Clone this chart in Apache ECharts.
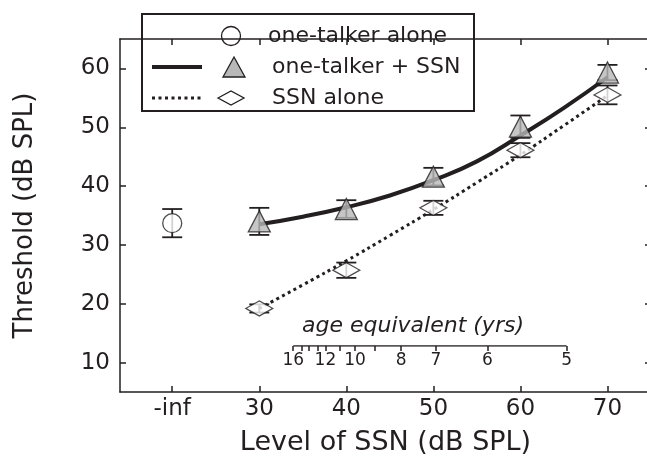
<!DOCTYPE html>
<html>
<head>
<meta charset="utf-8">
<script src="https://cdn.jsdelivr.net/npm/echarts@6/dist/echarts.min.js"></script>
<style>
  html, body { margin: 0; padding: 0; background: #fff; }
  #chart { width: 647px; height: 470px; }
</style>
</head>
<body>
<div id="chart"></div>
<script>
// axis ticks
const xTickValues = [20, 30, 40, 50, 60, 70];
const xTickLabels = ['-inf', '30', '40', '50', '60', '70'];
const yTickValues = [10, 20, 30, 40, 50, 60];

const seriesNames = ['one-talker alone', 'one-talker + SSN', 'SSN alone'];

// one-talker alone (no noise, plotted at -inf)
const aloneLevels = [20];
const aloneMean = [33.7];
const aloneErr = [2.4];

// noise levels for the other two conditions
const ssnLevels = [30, 40, 50, 60, 70];
const comboMean = [34.0, 36.1, 41.6, 50.1, 59.3];
const comboErr = [2.3, 1.5, 1.5, 1.9, 1.3];
const ssnMean = [19.2, 25.7, 36.3, 46.1, 55.5];
const ssnErr = [0.7, 1.3, 1.2, 1.2, 1.6];

// fitted curves
const fitLevels = [30, 35, 40, 45, 50, 55, 60, 65, 70];
const comboFit = [33.5, 34.8, 36.4, 38.4, 41.0, 44.2, 48.6, 53.3, 58.5];
const ssnFit = [19.2, 23.2, 27.3, 31.6, 36.0, 40.6, 45.3, 50.3, 55.4];

// age equivalent scale (years) and the SSN level each one sits at
const ageTicks = [16, 15, 14, 13, 12, 11, 10, 9, 8, 7, 6, 5];
const ageTickLevels = [33.9, 34.9, 35.7, 36.7, 37.6, 39.3, 41.0, 43.3, 46.3, 50.3, 56.2, 65.3];
const ageLabels = [16, 12, 10, 8, 7, 6, 5];

const FONT = '"DejaVu Sans"';
const INK = '#231f20';

const ageLabelLevels = ageLabels.map(a => ageTickLevels[ageTicks.indexOf(a)]);

function nearestAge(v) {
    let best = 0;
    ageTickLevels.forEach((l, i) => {
        if (Math.abs(l - v) < Math.abs(ageTickLevels[best] - v)) best = i;
    });
    return String(ageTicks[best]);
}

function errorBarSeries(levels, mean, err, z) {
    return {
        type: 'custom',
        xAxisIndex: 0,
        yAxisIndex: 0,
        z: z,
        silent: true,
        data: levels.map((l, i) => [l, mean[i] - err[i], mean[i] + err[i]]),
        renderItem: (params, api) => {
            const lo = api.coord([api.value(0), api.value(1)]);
            const hi = api.coord([api.value(0), api.value(2)]);
            const half = 10;
            const style = { stroke: INK, lineWidth: 1.8 };
            return {
                type: 'group',
                children: [
                    { type: 'line', shape: { x1: lo[0], y1: lo[1], x2: hi[0], y2: hi[1] }, style },
                    { type: 'line', shape: { x1: lo[0] - half, y1: lo[1], x2: lo[0] + half, y2: lo[1] }, style },
                    { type: 'line', shape: { x1: hi[0] - half, y1: hi[1], x2: hi[0] + half, y2: hi[1] }, style }
                ]
            };
        }
    };
}

const frameLine = { show: true, onZero: false, lineStyle: { color: INK, width: 1.5 } };
const tickStyle = { color: INK, width: 1.5 };
const labelText = { color: INK, fontFamily: FONT };

const chart = echarts.init(document.getElementById('chart'));
const option = {
    animation: false,
    backgroundColor: '#fff',
    grid: [
        // frame runs a little past the right edge of the picture
        { left: 120, width: 531, top: 39, bottom: 78, outerBoundsMode: 'none', containLabel: false },
        // strip that carries the age-equivalent scale, its bottom edge is the scale line
        { left: 120, width: 531, top: 336, height: 10, outerBoundsMode: 'none', containLabel: false }
    ],
    xAxis: [
        {
            gridIndex: 0, type: 'value', min: 14, max: 75, position: 'bottom',
            axisLine: frameLine,
            axisTick: { show: true, inside: true, length: 6, customValues: xTickValues, lineStyle: tickStyle },
            axisLabel: {
                customValues: xTickValues,
                formatter: v => xTickLabels[xTickValues.indexOf(v)],
                fontSize: 23, margin: 6, ...labelText
            },
            splitLine: { show: false },
            name: 'Level of SSN (dB SPL)', nameLocation: 'middle', nameGap: 37,
            nameTextStyle: { fontSize: 27, ...labelText }
        },
        {
            gridIndex: 0, type: 'value', min: 14, max: 75, position: 'top',
            axisLine: frameLine,
            axisTick: { show: true, inside: true, length: 6, customValues: xTickValues, lineStyle: tickStyle },
            axisLabel: { show: false },
            splitLine: { show: false }
        },
        {
            gridIndex: 1, type: 'value', min: 14, max: 75, position: 'bottom',
            axisLine: { show: false },
            axisTick: { show: true, inside: false, length: 5, customValues: ageTickLevels, lineStyle: tickStyle },
            axisLabel: {
                customValues: ageLabelLevels, formatter: nearestAge,
                fontSize: 17, margin: 6, ...labelText
            },
            splitLine: { show: false }
        }
    ],
    yAxis: [
        {
            gridIndex: 0, type: 'value', min: 5, max: 65, position: 'left',
            axisLine: frameLine,
            axisTick: { show: true, inside: true, length: 6, customValues: yTickValues, lineStyle: tickStyle },
            axisLabel: { customValues: yTickValues, fontSize: 23, margin: 10, ...labelText },
            splitLine: { show: false },
            name: 'Threshold (dB SPL)', nameLocation: 'middle', nameGap: 82,
            nameTextStyle: { fontSize: 26, ...labelText }
        },
        {
            gridIndex: 0, type: 'value', min: 5, max: 65, position: 'right',
            axisLine: frameLine,
            axisTick: { show: true, inside: true, length: 6, customValues: yTickValues, lineStyle: tickStyle },
            axisLabel: { show: false },
            splitLine: { show: false }
        },
        { gridIndex: 1, type: 'value', min: 0, max: 1, show: false }
    ],
    graphic: [
        {
            type: 'group', z: 100,
            children: [
                { type: 'rect', shape: { x: 142, y: 14, width: 332, height: 97 },
                  style: { fill: '#fff', stroke: INK, lineWidth: 2 } },
                { type: 'circle', shape: { cx: 231, cy: 36, r: 9.5 },
                  style: { fill: '#fff', stroke: INK, lineWidth: 1.3 } },
                { type: 'line', shape: { x1: 152, y1: 67, x2: 202, y2: 67 },
                  style: { stroke: INK, lineWidth: 4 } },
                { type: 'polygon', shape: { points: [[234, 57], [245, 77], [223, 77]] },
                  style: { fill: '#b8b8b8', stroke: INK, lineWidth: 1.3 } },
                { type: 'line', shape: { x1: 152, y1: 98, x2: 202, y2: 98 },
                  style: { stroke: INK, lineWidth: 3, lineDash: [3, 3.5] } },
                { type: 'polygon', shape: { points: [[218, 98], [231, 91], [244, 98], [231, 105]] },
                  style: { fill: '#fff', stroke: INK, lineWidth: 1.3 } },
                { type: 'text', x: 268, y: 36,
                  style: { text: seriesNames[0], fill: INK, font: '22px ' + FONT, verticalAlign: 'middle' } },
                { type: 'text', x: 272, y: 67,
                  style: { text: seriesNames[1], fill: INK, font: '22px ' + FONT, verticalAlign: 'middle' } },
                { type: 'text', x: 272, y: 98,
                  style: { text: seriesNames[2], fill: INK, font: '22px ' + FONT, verticalAlign: 'middle' } }
            ]
        },
        {
            type: 'text', x: 413, y: 326,
            style: { text: 'age equivalent (yrs)', fill: INK, font: 'italic 22px ' + FONT,
                     align: 'center', verticalAlign: 'middle' }
        }
    ],
    series: [
        errorBarSeries(aloneLevels, aloneMean, aloneErr, 2),
        errorBarSeries(ssnLevels, comboMean, comboErr, 2),
        errorBarSeries(ssnLevels, ssnMean, ssnErr, 2),
        {
            name: seriesNames[1] + ' fit', type: 'line', z: 3, silent: true,
            data: fitLevels.map((l, i) => [l, comboFit[i]]),
            smooth: true, showSymbol: false,
            lineStyle: { color: INK, width: 4 }
        },
        {
            name: seriesNames[2] + ' fit', type: 'line', z: 3, silent: true,
            data: fitLevels.map((l, i) => [l, ssnFit[i]]),
            smooth: true, showSymbol: false,
            lineStyle: { color: INK, width: 3, type: [3, 3.5] }
        },
        {
            name: seriesNames[0], type: 'scatter', z: 5,
            data: aloneLevels.map((l, i) => [l, aloneMean[i]]),
            symbol: 'circle', symbolSize: 19,
            itemStyle: { color: '#fff', borderColor: INK, borderWidth: 1.3 }
        },
        {
            name: seriesNames[1], type: 'scatter', z: 5,
            data: ssnLevels.map((l, i) => [l, comboMean[i]]),
            symbol: 'triangle', symbolSize: [22, 21],
            itemStyle: { color: '#b8b8b8', borderColor: INK, borderWidth: 1.3 }
        },
        {
            name: seriesNames[2], type: 'scatter', z: 5,
            data: ssnLevels.map((l, i) => [l, ssnMean[i]]),
            symbol: 'diamond', symbolSize: [27, 15],
            itemStyle: { color: '#fff', borderColor: INK, borderWidth: 1.3 }
        },
        {
            name: 'age axis', type: 'line', xAxisIndex: 2, yAxisIndex: 2, silent: true,
            data: [[ageTickLevels[0], 0], [ageTickLevels[ageTickLevels.length - 1], 0]],
            showSymbol: false,
            lineStyle: { color: INK, width: 1.5 }
        }
    ]
};
chart.setOption(option);
</script>
</body>
</html>
